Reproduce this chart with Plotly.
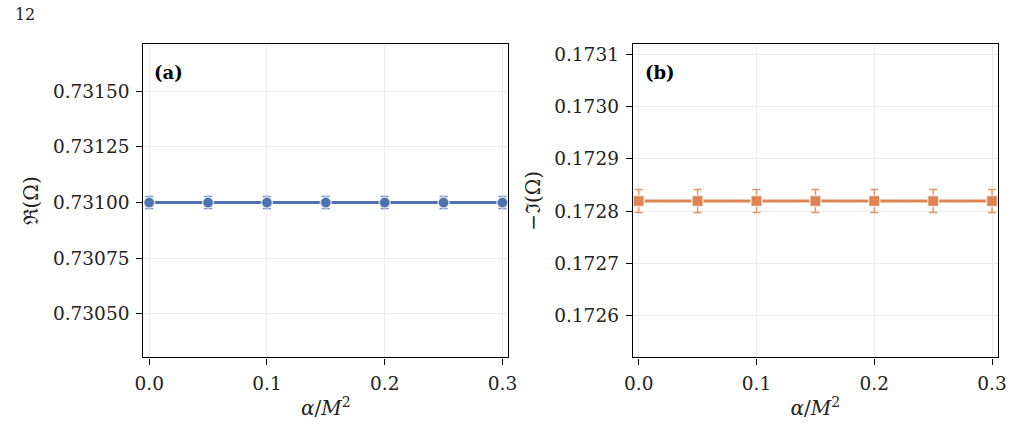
import plotly.graph_objects as go

alpha = [0.0, 0.05, 0.10, 0.15, 0.20, 0.25, 0.30]
re_omega = [0.73100, 0.73100, 0.73100, 0.73100, 0.73100, 0.73100, 0.73100]
re_err = [0.000027] * 7
im_omega = [0.172819, 0.172819, 0.172819, 0.172819, 0.172819, 0.172819, 0.172819]
im_err = [0.000022] * 7

xticks = [0.0, 0.1, 0.2, 0.3]
xtick_text = ["0.0", "0.1", "0.2", "0.3"]
yticks_a = [0.73050, 0.73075, 0.73100, 0.73125, 0.73150]
ytext_a = ["0.73050", "0.73075", "0.73100", "0.73125", "0.73150"]
yticks_b = [0.1726, 0.1727, 0.1728, 0.1729, 0.1730, 0.1731]
ytext_b = ["0.1726", "0.1727", "0.1728", "0.1729", "0.1730", "0.1731"]

BLUE = "#4C72B0"
ORANGE = "#DD8452"
FONT = "DejaVu Serif"

fig = go.Figure()
fig.add_trace(go.Scatter(
    x=alpha, y=re_omega, mode="lines+markers",
    line=dict(color=BLUE, width=3),
    marker=dict(symbol="circle", size=11, color=BLUE, line=dict(color="rgba(255,255,255,0.7)", width=1.5)),
    error_y=dict(type="data", array=re_err, visible=True, color="rgba(76,114,176,0.85)", thickness=1.5, width=4),
    xaxis="x", yaxis="y", showlegend=False,
))
fig.add_trace(go.Scatter(
    x=alpha, y=im_omega, mode="lines+markers",
    line=dict(color=ORANGE, width=3),
    marker=dict(symbol="square", size=11, color=ORANGE, line=dict(color="rgba(255,255,255,0.7)", width=1.5)),
    error_y=dict(type="data", array=im_err, visible=True, color="rgba(221,132,82,0.85)", thickness=1.5, width=4),
    xaxis="x2", yaxis="y2", showlegend=False,
))

W, H = 1020, 444
def dx(px):
    return px / W
def dy(py):
    return 1 - py / H

axis_common = dict(
    showline=True, linecolor="black", linewidth=1.3, mirror=True,
    ticks="outside", ticklen=6, tickwidth=1.2, tickcolor="black",
    ticklabelstandoff=3,
    showgrid=True, gridcolor="#ebebeb", gridwidth=1, zeroline=False,
    tickfont=dict(family=FONT, size=18.5, color="#222"),
)
title_font = dict(family=FONT, size=20, color="#222")

fig.update_layout(
    width=W, height=H, margin=dict(l=0, r=0, t=0, b=0),
    paper_bgcolor="white", plot_bgcolor="white",
    title=dict(text="12", x=dx(6), xanchor="left", xref="paper", y=dy(14), yanchor="middle", yref="container",
               font=dict(family=FONT, size=16, color="#222")),
    xaxis=dict(domain=[dx(136.7), dx(508.3)], range=[-0.005, 0.305], anchor="y",
               tickvals=xticks, ticktext=xtick_text,
               title=dict(text="<i>α</i>/<i>M</i><sup>2</sup>", font=title_font, standoff=8),
               **axis_common),
    yaxis=dict(domain=[dy(357.3), dy(43.3)], range=[0.730304, 0.731711], anchor="x",
               tickvals=yticks_a, ticktext=ytext_a,
               title=dict(text="ℜ(Ω)", font=title_font, standoff=8),
               **axis_common),
    xaxis2=dict(domain=[dx(635), dx(1006.7)], range=[-0.005, 0.305], anchor="y2",
                tickvals=xticks, ticktext=xtick_text,
                title=dict(text="<i>α</i>/<i>M</i><sup>2</sup>", font=title_font, standoff=8),
                **axis_common),
    yaxis2=dict(domain=[dy(357.3), dy(43.3)], range=[0.172520, 0.173119], anchor="x2",
                tickvals=yticks_b, ticktext=ytext_b,
                title=dict(text="−ℑ(Ω)", font=title_font, standoff=8),
                **axis_common),
    annotations=[
        dict(text="<b>(a)</b>", x=dx(146), y=dy(72), xref="paper", yref="paper", xanchor="left", yanchor="middle",
             showarrow=False, font=dict(family=FONT, size=18, color="black")),
        dict(text="<b>(b)</b>", x=dx(645), y=dy(72), xref="paper", yref="paper", xanchor="left", yanchor="middle",
             showarrow=False, font=dict(family=FONT, size=18, color="black")),
    ],
)

fig.write_html("out.html")
